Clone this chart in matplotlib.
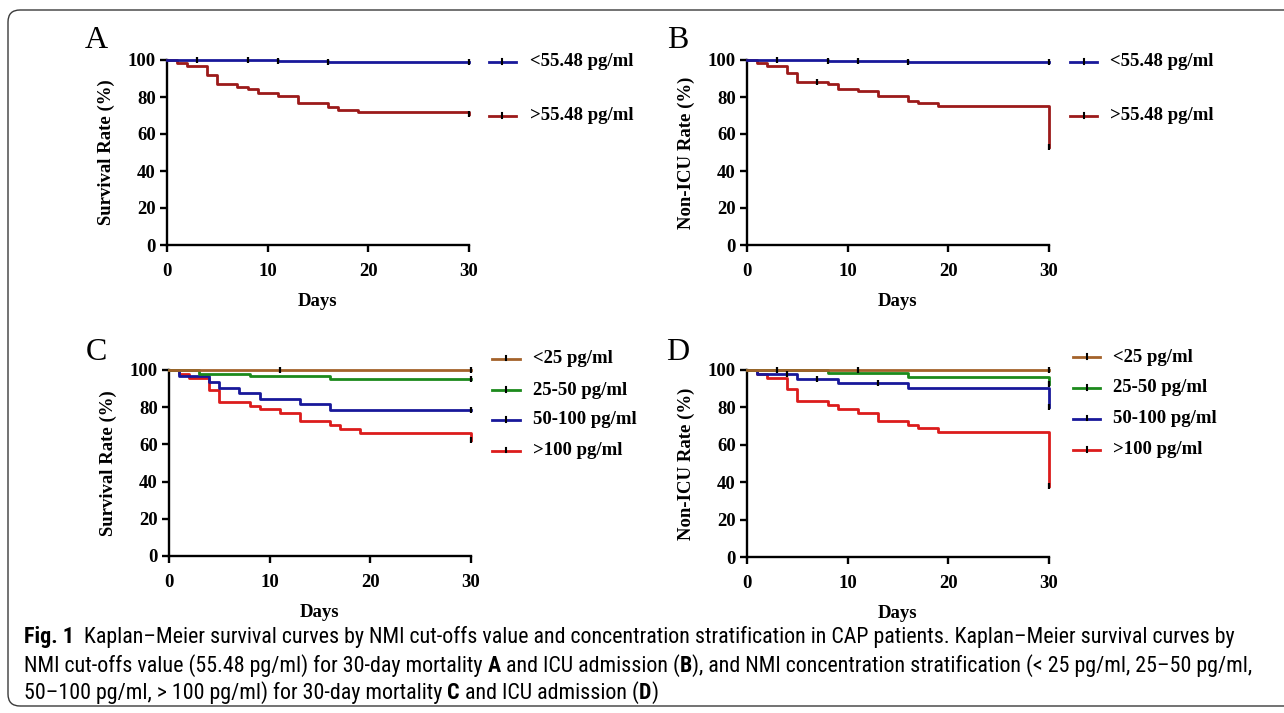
import matplotlib
matplotlib.use("Agg")
import matplotlib.pyplot as plt
from matplotlib.lines import Line2D
from matplotlib.patches import FancyBboxPatch
from matplotlib.transforms import IdentityTransform
from matplotlib import font_manager as fm

# ---------------- data ----------------
days_max = 30
yticks = [0, 20, 40, 60, 80, 100]
xticks = [0, 10, 20, 30]

# Panel A: 30-day mortality by cut-off
A_lo_days = [0, 11, 16, 30]
A_lo_surv = [100, 99.5, 98.9, 98.9]
A_lo_cens = [3, 8, 11, 16, 30]
A_hi_days = [0, 1, 2, 4, 5, 7, 8, 9, 11, 13, 16, 17, 19, 30]
A_hi_surv = [100, 98.2, 96.9, 91.9, 86.9, 85.6, 84.1, 82.0, 80.5, 76.9, 74.4, 73.0, 71.9, 70.6]
A_hi_cens = [30]

# Panel B: ICU admission by cut-off
B_lo_days = [0, 8, 16, 30]
B_lo_surv = [100, 99.5, 98.9, 98.9]
B_lo_cens = [3, 8, 11, 16, 30]
B_hi_days = [0, 1, 2, 4, 5, 8, 9, 11, 13, 16, 17, 19, 30]
B_hi_surv = [100, 98.2, 96.9, 92.9, 87.9, 87.0, 84.3, 83.1, 80.4, 77.7, 76.5, 75.4, 52.8]
B_hi_cens = [7, 30]

# Panel C: 30-day mortality by concentration
C_q1_days = [0, 30]
C_q1_surv = [100, 100]
C_q1_cens = [11, 30]
C_q2_days = [0, 3, 8, 16, 30]
C_q2_surv = [100, 97.8, 96.8, 95.0, 95.0]
C_q2_cens = [30]
C_q3_days = [0, 1, 4, 5, 7, 9, 13, 16, 30]
C_q3_surv = [100, 96.9, 93.4, 90.5, 87.5, 84.4, 81.6, 78.4, 78.4]
C_q3_cens = [30]
C_q4_days = [0, 1, 2, 4, 5, 8, 9, 11, 13, 16, 17, 19, 30]
C_q4_surv = [100, 97.8, 95.5, 89.2, 83.0, 80.8, 78.9, 76.7, 72.6, 70.4, 68.3, 66.3, 62.4]
C_q4_cens = [30]

# Panel D: ICU admission by concentration
D_q1_days = [0, 30]
D_q1_surv = [100, 100]
D_q1_cens = [3, 11, 30]
D_q2_days = [0, 8, 16, 30]
D_q2_surv = [100, 98.2, 96.4, 92.5]
D_q2_cens = [30]
D_q3_days = [0, 1, 5, 9, 16, 30]
D_q3_surv = [100, 97.9, 95.2, 92.9, 90.2, 80.4]
D_q3_cens = [4, 7, 13, 30]
D_q4_days = [0, 1, 2, 4, 5, 8, 9, 11, 13, 16, 17, 19, 30]
D_q4_surv = [100, 97.9, 95.9, 89.7, 83.4, 81.3, 79.1, 76.8, 72.9, 70.6, 68.8, 67.0, 38.0]
D_q4_cens = [30]

labels_cut = ["<55.48 pg/ml", ">55.48 pg/ml"]
labels_conc = ["<25 pg/ml", "25-50 pg/ml", "50-100 pg/ml", ">100 pg/ml"]
ylab_surv = "Survival Rate (%)"
ylab_icu = "Non-ICU Rate (%)"
xlab = "Days"

caption_lines = [
    [("Fig. 1", True), ("  Kaplan–Meier survival curves by NMI cut-offs value and concentration stratification in CAP patients. Kaplan–Meier survival curves by", False)],
    [("NMI cut-offs value (55.48 pg/ml) for 30-day mortality ", False), ("A", True), (" and ICU admission (", False), ("B", True),
     ("), and NMI concentration stratification (< 25 pg/ml, 25–50 pg/ml,", False)],
    [("50–100 pg/ml, > 100 pg/ml) for 30-day mortality ", False), ("C", True), (" and ICU admission (", False), ("D", True), (")", False)],
]

# ---------------- style ----------------
BLUE = "#18189a"
DRED = "#9c1a1a"
RED = "#dc1c1c"
GREEN = "#1c8a1c"
BROWN = "#a4622a"
SERIF = "Liberation Serif"

names = {f.name for f in fm.fontManager.ttflist}
cap_family = "Open Sans"
for cand in ["Liberation Sans Narrow", "Roboto Condensed", "DejaVu Sans Condensed", "Roboto", "Lato"]:
    if cand in names:
        cap_family = cand
        break

W, H = 1284, 713
fig = plt.figure(figsize=(W / 100, H / 100), dpi=100)

# rounded frame
frame = FancyBboxPatch((8, H - 706), 1320, 696, boxstyle="round,pad=0,rounding_size=12",
                       transform=IdentityTransform(), fill=False, edgecolor="#3a3a3a", linewidth=1.0)
fig.patches.append(frame)


def make_ax(l, t, r, b):
    ax = fig.add_axes([l / W, 1 - b / H, (r - l) / W, (b - t) / H])
    ax.set_xlim(0, days_max)
    ax.set_ylim(0, 100)
    for s in ["top", "right"]:
        ax.spines[s].set_visible(False)
    for s in ["left", "bottom"]:
        ax.spines[s].set_linewidth(1.7)
    ax.set_xticks(xticks)
    ax.set_yticks(yticks)
    ax.tick_params(direction="out", length=5, width=1.7)
    ax.tick_params(axis="x", pad=8)
    ax.tick_params(axis="y", pad=3)
    for lab in ax.get_xticklabels() + ax.get_yticklabels():
        lab.set_fontfamily(SERIF)
        lab.set_fontweight("bold")
        lab.set_fontsize(13.5)
    ax.patch.set_alpha(0)
    return ax


def km(ax, d, s, cens, color):
    ax.step(d, s, where="post", color=color, lw=2.0, clip_on=False, zorder=3)
    # censor ticks
    cy = []
    for c in cens:
        v = s[0]
        for dd, ss in zip(d, s):
            if dd <= c:
                v = ss
        cy.append(v)
    ax.plot(cens, cy, linestyle="none", marker="|", markersize=5, mew=1.6,
            color="black", clip_on=False, zorder=4)


def labels(ax, ylab, xlab_y, ylab_x):
    ax.set_ylabel(ylab, fontfamily=SERIF, fontweight="bold", fontsize=13.5)
    ax.yaxis.set_label_coords(ylab_x, 0.5)
    ax.set_xlabel(xlab, fontfamily=SERIF, fontweight="bold", fontsize=13.5)
    ax.xaxis.set_label_coords(0.5, xlab_y)


def legend(x0, x1, xt, ys, texts, colors):
    for y, t, c in zip(ys, texts, colors):
        fy = 1 - y / H
        fig.add_artist(Line2D([x0 / W, x1 / W], [fy, fy], color=c, lw=2.0, transform=fig.transFigure))
        xm = (x0 + x1) / 2 / W
        fig.add_artist(Line2D([xm, xm], [fy - 1.5 / H, fy + 3.5 / H], color="black", lw=1.5,
                              transform=fig.transFigure))
        fig.text(xt / W, fy, t, fontfamily=SERIF, fontweight="bold", fontsize=13.5,
                 va="center", ha="left")


def letter(x, y, t):
    fig.text(x / W, 1 - y / H, t, fontfamily=SERIF, fontsize=23, ha="center", va="center")


axA = make_ax(167, 60, 469, 245)
km(axA, A_hi_days, A_hi_surv, A_hi_cens, DRED)
km(axA, A_lo_days, A_lo_surv, A_lo_cens, BLUE)
labels(axA, ylab_surv, -0.26, -0.172)
legend(489, 516, 530, [62, 116], labels_cut, [BLUE, DRED])
letter(96, 40, "A")

axB = make_ax(747, 60, 1049, 245)
km(axB, B_hi_days, B_hi_surv, B_hi_cens, DRED)
km(axB, B_lo_days, B_lo_surv, B_lo_cens, BLUE)
labels(axB, ylab_icu, -0.26, -0.172)
legend(1070, 1097, 1110, [62, 116], labels_cut, [BLUE, DRED])
letter(678, 40, "B")

axC = make_ax(169, 370, 471, 556)
km(axC, C_q4_days, C_q4_surv, C_q4_cens, RED)
km(axC, C_q3_days, C_q3_surv, C_q3_cens, BLUE)
km(axC, C_q2_days, C_q2_surv, C_q2_cens, GREEN)
km(axC, C_q1_days, C_q1_surv, C_q1_cens, BROWN)
labels(axC, ylab_surv, -0.258, -0.172)
legend(492, 520, 533, [359, 390, 420, 451], labels_conc, [BROWN, GREEN, BLUE, RED])
letter(96, 352, "C")

axD = make_ax(747, 370, 1049, 557)
km(axD, D_q4_days, D_q4_surv, D_q4_cens, RED)
km(axD, D_q3_days, D_q3_surv, D_q3_cens, BLUE)
km(axD, D_q2_days, D_q2_surv, D_q2_cens, GREEN)
km(axD, D_q1_days, D_q1_surv, D_q1_cens, BROWN)
labels(axD, ylab_icu, -0.258, -0.172)
legend(1073, 1100, 1113, [357, 388, 419, 450], labels_conc, [BROWN, GREEN, BLUE, RED])
letter(678, 352, "D")

# ---------------- caption ----------------
renderer = fig.canvas.get_renderer()


def draw_line(segs, x0, y, size, draw=True):
    x = x0
    arts = []
    for txt, bold in segs:
        t = fig.text(x / W, 1 - y / H, txt, fontsize=size, fontfamily=cap_family,
                     fontweight="bold" if bold else "normal", va="center", ha="left")
        bb = t.get_window_extent(renderer)
        x += bb.width
        arts.append(t)
    if not draw:
        for a in arts:
            a.remove()
    return x - x0


base = 11.0
w = draw_line(caption_lines[0], 24, 637, base, draw=False)
size = base * (1233 - 24) / w
for segs, y in zip(caption_lines, [637, 666, 693]):
    draw_line(segs, 24, y, size)

fig.savefig("out.png", dpi=100)
